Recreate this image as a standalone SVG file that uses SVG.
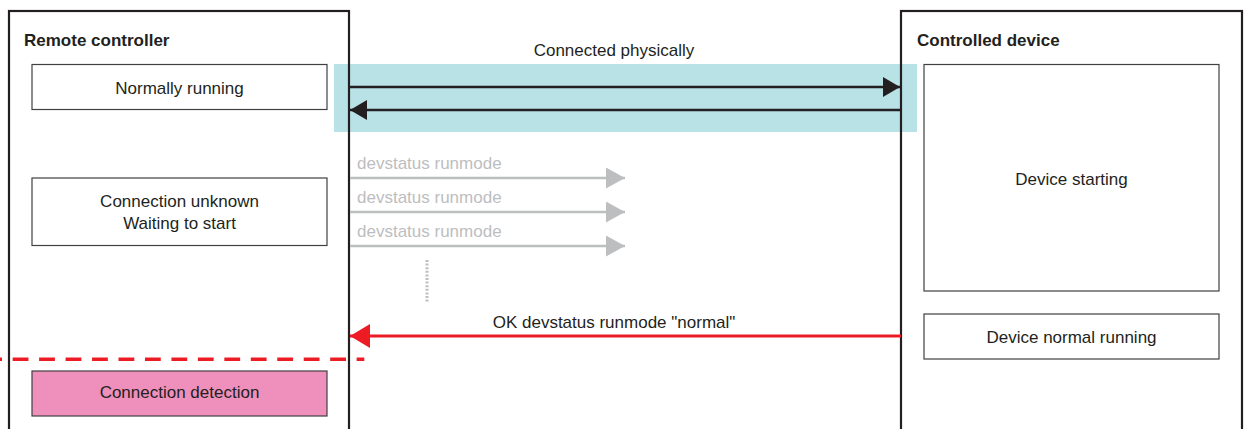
<svg xmlns="http://www.w3.org/2000/svg" width="1246" height="429" viewBox="0 0 1246 429">
<style>
text{font-family:"Liberation Sans",Arial,sans-serif;font-size:17px;fill:#231f20}
.title{font-weight:bold}
.mid{text-anchor:middle}
.gray{fill:#bcbec0}
.panel{fill:none;stroke:#231f20;stroke-width:2.2}
.box{fill:#fff;stroke:#414042;stroke-width:1.2}
.pink{fill:#ef8fbb;stroke:#414042;stroke-width:1.2}
.blk{stroke:#231f20;stroke-width:2.5;fill:none}
.gry{stroke:#bcbec0;stroke-width:2.5;fill:none}
.red{stroke:#ed1c24;stroke-width:3;fill:none}
</style>
<defs>
<marker id="ab" markerUnits="userSpaceOnUse" markerWidth="17" markerHeight="20" refX="17" refY="10" orient="auto"><path d="M0,0L17,10L0,20z" fill="#231f20"/></marker>
<marker id="ag" markerUnits="userSpaceOnUse" markerWidth="19" markerHeight="21" refX="19" refY="10.5" orient="auto"><path d="M0,0L19,10.5L0,21z" fill="#bcbec0"/></marker>
<marker id="ar" markerUnits="userSpaceOnUse" markerWidth="20" markerHeight="24" refX="20" refY="12" orient="auto"><path d="M0,0L20,12L0,24z" fill="#ed1c24"/></marker>
</defs>
<rect id="physical-band" x="334" y="64" width="583" height="68" fill="#b9e2e7"/>
<g id="remote-controller">
<rect class="panel" x="9" y="11" width="340" height="430"/>
<text class="title" x="24" y="46">Remote controller</text>
</g>
<g id="controlled-device">
<rect class="panel" x="901" y="11" width="341" height="430"/>
<text class="title" x="917" y="46">Controlled device</text>
</g>
<g id="normally-running">
<rect class="box" x="32" y="64.5" width="295" height="45"/>
<text class="mid" x="179.5" y="94">Normally running</text>
</g>
<g id="connection-unknown">
<rect class="box" x="32" y="178" width="295" height="67.5"/>
<text class="mid" x="179.5" y="207">Connection unknown</text>
<text class="mid" x="179.5" y="229">Waiting to start</text>
</g>
<g id="connection-detection">
<rect class="pink" x="32" y="371" width="295" height="45"/>
<text class="mid" x="179.5" y="398">Connection detection</text>
</g>
<g id="device-starting">
<rect class="box" x="924" y="64.5" width="295" height="226.5"/>
<text class="mid" x="1071.5" y="185">Device starting</text>
</g>
<g id="device-normal-running">
<rect class="box" x="924" y="314" width="295" height="45"/>
<text class="mid" x="1071.5" y="343">Device normal running</text>
</g>
<g id="connectors">
<line class="blk" x1="350" y1="87" x2="900" y2="87" marker-end="url(#ab)"/>
<line class="blk" x1="901" y1="110" x2="350" y2="110" marker-end="url(#ab)"/>
<line class="gry" x1="350" y1="178" x2="625" y2="178" marker-end="url(#ag)"/>
<line class="gry" x1="350" y1="212" x2="625" y2="212" marker-end="url(#ag)"/>
<line class="gry" x1="350" y1="246" x2="625" y2="246" marker-end="url(#ag)"/>
<line x1="427" y1="260" x2="427" y2="303" stroke="#bcbec0" stroke-width="3" stroke-dasharray="2 1.6"/>
<line class="red" x1="901" y1="336" x2="350" y2="336" marker-end="url(#ar)"/>
<line x1="-13.8" y1="359.3" x2="364.3" y2="359.3" stroke="#ed1c24" stroke-width="3.5" stroke-dasharray="15.8 10.66"/>
</g>
<g id="labels">
<text class="mid" x="614" y="56">Connected physically</text>
<text class="gray" x="357" y="169">devstatus runmode</text>
<text class="gray" x="357" y="203">devstatus runmode</text>
<text class="gray" x="357" y="237">devstatus runmode</text>
<text class="mid" x="614" y="328">OK devstatus runmode "normal"</text>
</g>
</svg>
